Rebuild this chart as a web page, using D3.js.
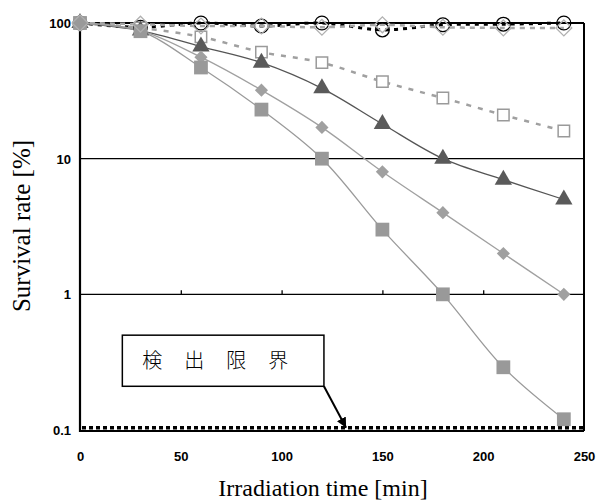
<!DOCTYPE html>
<html>
<head>
<meta charset="utf-8">
<script src="https://cdn.jsdelivr.net/npm/d3@7"></script>
<style>
  body { margin: 0; background: #fff; }
  svg { display: block; }
</style>
</head>
<body>
<div id="chart"></div>
<script>
// datos
var times = [0, 30, 60, 90, 120, 150, 180, 210, 240];
var triangleVals   = [100, 88, 67, 51, 33, 18, 10, 7, 5];
var diamondVals    = [100, 88, 56, 32, 17, 8, 4, 2, 1];
var squareVals     = [100, 87, 47, 23, 10, 3, 1, 0.29, 0.12];
var openSquareVals = [100, 92, 79, 61, 51, 37, 28, 21, 16];
var openDiamondVals = [100, 98, 95, 95, 93, 97, 93, 92, 92];
var circleVals     = [100, 93, 100, 95, 100, 89, 97, 98, 100];
var yTicks = [0.1, 1, 10, 100];
var xTicks = [0, 50, 100, 150, 200, 250];
var detectionLimit = 0.104;
var limitLabel = "検　出　限　界";
var calloutBox = { x0: 21, x1: 121, v0: 0.5, v1: 0.21 }; // en unidades de datos
var arrowTip = { t: 132, v: 0.104 };

var width = 598, height = 504;

var svg = d3.select("#chart").append("svg")
  .attr("width", width)
  .attr("height", height);

var x = d3.scaleLinear().domain([0, 250]).range([80, 584]);
var y = d3.scaleLog().domain([0.1, 100]).range([430, 23]);

// lineas horizontales (grilla en 1 y 10, borde en 100)
svg.selectAll("line.grid")
  .data([1, 10, 100])
  .enter().append("line")
  .attr("x1", x(0)).attr("x2", x(250))
  .attr("y1", function(d){ return y(d); })
  .attr("y2", function(d){ return y(d); })
  .style("stroke", "#000")
  .style("stroke-width", function(d){ return d == 100 ? 2 : 1.3; });

// borde derecho
svg.append("line")
  .attr("x1", x(250)).attr("x2", x(250))
  .attr("y1", y(100)).attr("y2", y(0.1) + 1)
  .style("stroke", "#000").style("stroke-width", 2);

// linea inferior
svg.append("line")
  .attr("x1", x(0)).attr("x2", x(250))
  .attr("y1", y(0.1) + 1).attr("y2", y(0.1) + 1)
  .style("stroke", "#000").style("stroke-width", 2);

// eje izquierdo
svg.append("line")
  .attr("x1", x(0)).attr("x2", x(0))
  .attr("y1", y(100)).attr("y2", y(0.1) + 2)
  .style("stroke", "#000").style("stroke-width", 2.2);

// marcas del eje x sobre la linea de 1
var xTickAxis = d3.axisBottom(x).tickValues(xTicks.slice(1, 5)).tickSize(-4).tickFormat("");
svg.append("g")
  .attr("transform", "translate(0," + y(1) + ")")
  .call(xTickAxis)
  .call(function(g){ g.select(".domain").remove(); })
  .selectAll("line").style("stroke-width", 1.3);

// etiquetas de ejes
var fmtY = function(d){ return d < 1 ? "0.1" : String(d); };
svg.append("g")
  .attr("transform", "translate(" + (x(0) - 6) + ",0)")
  .call(d3.axisLeft(y).tickValues(yTicks).tickSize(0).tickFormat(fmtY))
  .call(function(g){
    g.select(".domain").remove();
    g.selectAll("text")
      .attr("dy", "0.35em")
      .style("font", "bold 13px 'Liberation Sans', Arial, sans-serif")
      .style("fill", "#000");
  });

svg.append("g")
  .attr("transform", "translate(0," + 449 + ")")
  .call(d3.axisBottom(x).tickValues(xTicks).tickSize(0))
  .call(function(g){
    g.select(".domain").remove();
    g.selectAll("text")
      .style("font", "bold 13px 'Liberation Sans', Arial, sans-serif")
      .style("fill", "#000");
  });

svg.append("text")
  .attr("transform", "translate(30," + 226 + ") rotate(-90)")
  .attr("text-anchor", "middle")
  .style("font", "25px 'Liberation Serif', 'Times New Roman', serif")
  .text("Survival rate [%]");

svg.append("text")
  .attr("x", 323).attr("y", 496)
  .attr("text-anchor", "middle")
  .style("font", "24px 'Liberation Serif', 'Times New Roman', serif")
  .text("Irradiation time [min]");

// limite de deteccion
svg.append("line")
  .attr("x1", x(0) + 2).attr("x2", x(250))
  .attr("y1", y(detectionLimit)).attr("y2", y(detectionLimit))
  .style("stroke", "#000")
  .style("stroke-width", 3.5)
  .style("stroke-dasharray", "4,3");

// series
var curve = d3.curveCatmullRom.alpha(0.5);
var line = d3.line()
  .x(function(d){ return x(d.t); })
  .y(function(d){ return y(d.v); })
  .curve(curve);

function toPts(vals){
  return vals.map(function(v, i){ return { t: times[i], v: v }; });
}

// orden de dibujo de marcadores: circulos abajo, diamantes abiertos arriba
var series = [
  { vals: circleVals, stroke: "#000", width: 3, dash: "4,5", marker: "circle" },
  { vals: openSquareVals, stroke: "#a0a0a0", width: 2.5, dash: "5,7", marker: "openSquare" },
  { vals: triangleVals, stroke: "#555", width: 1.3, dash: null, marker: "triangle" },
  { vals: diamondVals, stroke: "#a0a0a0", width: 1.3, dash: null, marker: "diamond" },
  { vals: squareVals, stroke: "#9a9a9a", width: 1.3, dash: null, marker: "square" },
  { vals: openDiamondVals, stroke: "#a6a6a6", width: 2.5, dash: "5,5", marker: "openDiamond" }
];

series.forEach(function(s){
  svg.append("path")
    .datum(toPts(s.vals))
    .attr("d", line)
    .style("fill", "none")
    .style("stroke", s.stroke)
    .style("stroke-width", s.width)
    .style("stroke-dasharray", s.dash);
});

var sym = {
  square:      { type: d3.symbolSquare, size: 190, fill: "#999", stroke: "none", sw: 0 },
  diamond:     { type: d3.symbolDiamond2, size: 110, fill: "#a0a0a0", stroke: "none", sw: 0 },
  triangle:    { type: d3.symbolTriangle, size: 130, fill: "#5a5a5a", stroke: "none", sw: 0 },
  openSquare:  { type: d3.symbolSquare, size: 130, fill: "#fff", stroke: "#9a9a9a", sw: 1.5 },
  openDiamond: { type: d3.symbolDiamond2, size: 160, fill: "none", stroke: "#b0b0b0", sw: 1.3 },
  circle:      { type: d3.symbolCircle, size: 150, fill: "none", stroke: "#000", sw: 1.3 }
};

series.forEach(function(s){
  var m = sym[s.marker];
  svg.append("g").selectAll("path")
    .data(toPts(s.vals))
    .enter().append("path")
    .attr("transform", function(d){ return "translate(" + x(d.t) + "," + y(d.v) + ")"; })
    .attr("d", d3.symbol().type(m.type).size(m.size))
    .style("fill", m.fill)
    .style("stroke", m.stroke)
    .style("stroke-width", m.sw);
});

// recuadro y flecha del limite de deteccion
var bx0 = x(calloutBox.x0), bx1 = x(calloutBox.x1);
var by0 = y(calloutBox.v0), by1 = y(calloutBox.v1);
svg.append("rect")
  .attr("x", bx0).attr("y", by0)
  .attr("width", bx1 - bx0).attr("height", by1 - by0)
  .style("fill", "#fff")
  .style("stroke", "#000")
  .style("stroke-width", 1.5);

svg.append("text")
  .attr("x", bx0 + 20).attr("y", (by0 + by1) / 2 + 7)
  .style("font", "300 20px 'Noto Sans CJK JP', sans-serif")
  .style("letter-spacing", "1px")
  .text(limitLabel);

svg.append("defs").append("marker")
  .attr("id", "arrow")
  .attr("viewBox", "0 0 10 10")
  .attr("refX", 10).attr("refY", 5)
  .attr("markerWidth", 5).attr("markerHeight", 5)
  .attr("markerUnits", "strokeWidth")
  .attr("orient", "auto")
  .append("path")
  .attr("d", "M0,0 L10,5 L0,10 z")
  .style("fill", "#000");

svg.append("line")
  .attr("x1", bx1).attr("y1", by1)
  .attr("x2", x(arrowTip.t)).attr("y2", y(arrowTip.v))
  .style("stroke", "#000")
  .style("stroke-width", 2)
  .attr("marker-end", "url(#arrow)");
</script>
</body>
</html>
